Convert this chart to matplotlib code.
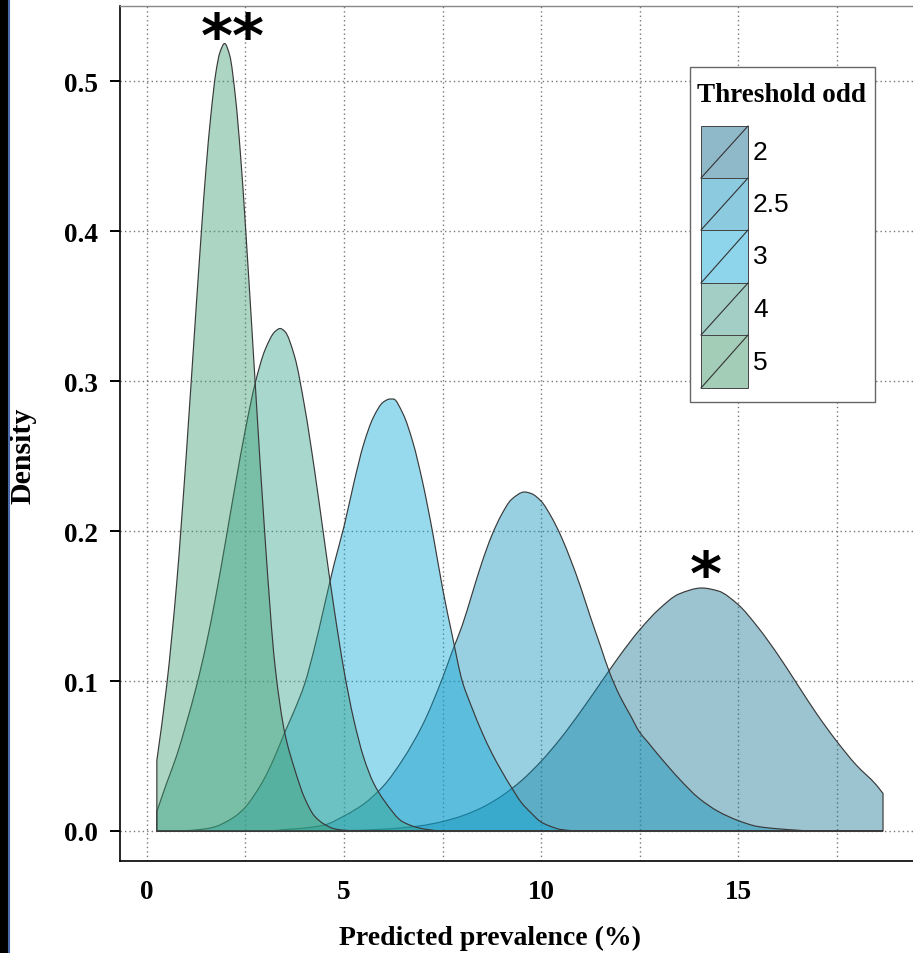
import matplotlib
matplotlib.use("Agg")
import numpy as np
import matplotlib.pyplot as plt
from matplotlib.patches import Rectangle, PathPatch
from matplotlib.path import Path
from matplotlib.lines import Line2D

# ---------------- data ----------------
groups = ["2", "2.5", "3", "4", "5"]

x_2 = [0.25, 4.0, 5.0, 6.0, 6.5, 7.0, 7.5, 8.0, 8.5, 9.0, 9.5, 10.0, 10.5, 11.0, 11.5,
       12.0, 12.5, 13.0, 13.5, 14.08, 14.5, 15.0, 15.5, 16.0, 16.5, 17.0, 17.5, 18.0, 18.5, 18.68]
d_2 = [0.0, 0.0001, 0.0003, 0.0012, 0.0022, 0.0037, 0.0063, 0.0101, 0.0156, 0.0233, 0.0335,
       0.0464, 0.0618, 0.0794, 0.0982, 0.117, 0.134, 0.148, 0.158, 0.162, 0.160, 0.151, 0.136,
       0.118, 0.098, 0.078, 0.060, 0.044, 0.031, 0.025]

x_25 = [0.25, 3.0, 3.5, 4.0, 4.5, 5.0, 5.5, 6.0, 6.5, 7.0, 7.5, 7.75, 8.0, 8.25, 8.5, 8.75,
        9.0, 9.25, 9.58, 9.75, 10.0, 10.25, 10.5, 10.75, 11.0, 11.25, 11.5, 11.75, 12.0,
        12.25, 12.5, 12.75, 13.0, 13.5, 14.0, 14.5, 15.0, 15.5, 16.0, 17.0, 18.68]
d_25 = [0.0, 0.0, 0.001, 0.002, 0.004, 0.010, 0.018, 0.030, 0.048, 0.071, 0.102, 0.120,
        0.137, 0.158, 0.179, 0.197, 0.211, 0.221, 0.226, 0.225, 0.220, 0.210, 0.197, 0.181,
        0.163, 0.143, 0.124, 0.105, 0.090, 0.078, 0.066, 0.058, 0.050, 0.035, 0.022, 0.013,
        0.007, 0.003, 0.0015, 0.0, 0.0]

x_3 = [0.25, 1.0, 1.5, 1.75, 2.0, 2.25, 2.5, 2.75, 3.0, 3.25, 3.5, 3.75, 4.0, 4.25, 4.5,
       4.75, 5.0, 5.25, 5.5, 5.75, 6.0, 6.17, 6.25, 6.5, 6.75, 7.0, 7.25, 7.5, 7.75, 8.0,
       8.25, 8.5, 8.75, 9.0, 9.25, 9.5, 9.75, 10.0, 10.25, 10.5, 11.0, 18.68]
d_3 = [0.0, 0.0003, 0.0015, 0.003, 0.006, 0.010, 0.016, 0.025, 0.036, 0.050, 0.066, 0.081,
       0.098, 0.122, 0.150, 0.178, 0.203, 0.232, 0.258, 0.276, 0.286, 0.288, 0.288, 0.278,
       0.259, 0.232, 0.199, 0.162, 0.130, 0.100, 0.082, 0.066, 0.052, 0.040, 0.029, 0.019,
       0.012, 0.006, 0.003, 0.001, 0.0, 0.0]

x_4 = [0.25, 0.5, 0.75, 1.0, 1.25, 1.5, 1.75, 2.0, 2.25, 2.5, 2.75, 3.0, 3.25, 3.38, 3.5,
       3.75, 4.0, 4.25, 4.5, 4.75, 5.0, 5.25, 5.5, 5.75, 6.0, 6.5, 7.0, 7.5, 18.68]
d_4 = [0.013, 0.032, 0.050, 0.072, 0.096, 0.124, 0.157, 0.194, 0.232, 0.268, 0.299, 0.321,
       0.333, 0.335, 0.333, 0.316, 0.283, 0.241, 0.194, 0.148, 0.107, 0.074, 0.049, 0.032,
       0.021, 0.006, 0.0015, 0.0, 0.0]

x_5 = [0.25, 0.5, 0.75, 1.0, 1.25, 1.5, 1.62, 1.75, 1.85, 1.97, 2.1, 2.25, 2.37, 2.5, 2.75,
       3.0, 3.25, 3.5, 3.75, 4.0, 4.25, 4.5, 4.75, 5.0, 5.5, 18.68]
d_5 = [0.047, 0.097, 0.164, 0.252, 0.350, 0.442, 0.477, 0.506, 0.519, 0.525, 0.517, 0.488,
       0.452, 0.403, 0.297, 0.194, 0.110, 0.065, 0.041, 0.022, 0.010, 0.0045, 0.0015, 0.0005,
       0.0, 0.0]

fill_colors = ["#11708f", "#0a8fba", "#0aa7d6", "#30a28a", "#399b70"]
key_colors = ["#8fb8c8", "#8ccadf", "#8ed4ea", "#a3cec6", "#a3cdb6"]
fill_alpha = 0.42

x_ticks = [0, 5, 10, 15]
x_minor = [2.5, 7.5, 12.5, 17.5, 20]
y_ticks = [0.0, 0.1, 0.2, 0.3, 0.4, 0.5]
y_labels = ["0.0", "0.1", "0.2", "0.3", "0.4", "0.5"]


def smooth_area_path(xs, ys):
    """Closed area path: monotone cubic (PCHIP-style) Bezier through the points, down to 0."""
    x = np.asarray(xs, float)
    y = np.asarray(ys, float)
    h = np.diff(x)
    delta = np.diff(y) / h
    n = len(x)
    m = np.zeros(n)
    m[0], m[-1] = delta[0], delta[-1]
    for k in range(1, n - 1):
        if delta[k - 1] * delta[k] <= 0:
            m[k] = 0.0
        else:
            w1 = 2 * h[k] + h[k - 1]
            w2 = h[k] + 2 * h[k - 1]
            m[k] = (w1 + w2) / (w1 / delta[k - 1] + w2 / delta[k])
    verts = [(x[0], 0.0), (x[0], y[0])]
    codes = [Path.MOVETO, Path.LINETO]
    for k in range(n - 1):
        c1 = (x[k] + h[k] / 3, max(y[k] + m[k] * h[k] / 3, 0.0))
        c2 = (x[k + 1] - h[k] / 3, max(y[k + 1] - m[k + 1] * h[k] / 3, 0.0))
        verts += [c1, c2, (x[k + 1], y[k + 1])]
        codes += [Path.CURVE4] * 3
    verts += [(x[-1], 0.0), (x[0], 0.0)]
    codes += [Path.LINETO, Path.CLOSEPOLY]
    return Path(verts, codes)


# ---------------- figure ----------------
W, H = 913, 954
fig = plt.figure(figsize=(W / 100, H / 100), dpi=100)
fig.patch.set_facecolor("white")

AX_L, AX_B, AX_R, AX_T = 120, 862, 950, 7  # pixels (top-left origin)
ax = fig.add_axes([AX_L / W, (H - AX_B) / H, (AX_R - AX_L) / W, (AX_B - AX_T) / H])
ax.set_xlim(-0.685, 20.38)
ax.set_ylim(-0.02, 0.55)


def axf(px, py):
    return ((px - AX_L) / (AX_R - AX_L), (AX_B - py) / (AX_B - AX_T))


# grid
ax.set_xticks(x_ticks)
ax.set_xticklabels([str(t) for t in x_ticks])
ax.set_xticks(x_minor, minor=True)
ax.set_yticks(y_ticks)
ax.set_yticklabels(y_labels)
ax.grid(True, which="both", axis="x", color="#777777", lw=1.0, linestyle=(0, (1, 2.2)))
ax.grid(True, which="major", axis="y", color="#777777", lw=1.0, linestyle=(0, (1, 2.2)))
ax.set_axisbelow(True)

serif = ["Liberation Serif", "DejaVu Serif"]
ax.tick_params(axis="x", which="both", length=0, pad=13)
ax.tick_params(axis="y", length=7.2, width=1.4, color="black", direction="out", pad=9)
for lab in ax.get_xticklabels() + ax.get_yticklabels():
    lab.set_fontfamily(serif)
    lab.set_fontweight("bold")
    lab.set_fontsize(19.5)

for s in ["left", "bottom"]:
    ax.spines[s].set_color("black")
    ax.spines[s].set_linewidth(1.2)
ax.spines["top"].set_color("#888888")
ax.spines["top"].set_linewidth(1.0)
ax.spines["right"].set_visible(False)

ax.set_xlabel("Predicted prevalence (%)", fontfamily=serif, fontweight="bold", fontsize=20)
ax.xaxis.set_label_coords(*axf(490, 926))
ax.set_ylabel("Density", fontfamily=serif, fontweight="bold", fontsize=21.5)
ax.yaxis.set_label_coords(*axf(36, 456))

# densities
series_x = [x_2, x_25, x_3, x_4, x_5]
series_d = [d_2, d_25, d_3, d_4, d_5]
for xs, ds, c in zip(series_x, series_d, fill_colors):
    rgba = matplotlib.colors.to_rgba(c, fill_alpha)
    ax.add_patch(PathPatch(smooth_area_path(xs, ds), facecolor=rgba, edgecolor="#3a3a3a",
                           linewidth=0.85, zorder=3, transform=ax.transData))

# significance marks
ax.text(2.18, 0.528, "**", fontsize=44, fontweight="bold", fontfamily="DejaVu Sans",
        ha="center", va="center", zorder=6)
ax.text(14.19, 0.169, "*", fontsize=44, fontweight="bold", fontfamily="DejaVu Sans",
        ha="center", va="center", zorder=6)

# legend (drawn in axes-fraction coordinates)
bx0, by0 = axf(690, 403)
bx1, by1 = axf(875, 68)
ax.add_patch(Rectangle((bx0, by0), bx1 - bx0, by1 - by0, transform=ax.transAxes,
                       facecolor="white", edgecolor="#666666", lw=1.0, zorder=10))
tx, ty = axf(697, 96)
ax.text(tx, ty, "Threshold odd", transform=ax.transAxes, fontfamily=serif, fontweight="bold",
        fontsize=19.5, ha="left", va="center", zorder=11)
key_tops = [127, 179, 231, 284, 336]
key_bots = [179, 231, 284, 336, 389]
for g, kc, kt, kb in zip(groups, key_colors, key_tops, key_bots):
    x0, y0 = axf(701, kb)
    x1, y1 = axf(748, kt)
    ax.add_patch(Rectangle((x0, y0), x1 - x0, y1 - y0, transform=ax.transAxes,
                           facecolor=kc, edgecolor="#444444", lw=0.7, zorder=11))
    ax.add_line(Line2D([x0, x1], [y0, y1], transform=ax.transAxes, color="#333333",
                       lw=0.8, zorder=12))
    lx, ly = axf(753, (kt + kb) / 2)
    ax.text(lx, ly, g, transform=ax.transAxes, fontfamily=["Liberation Sans", "DejaVu Sans"],
            fontsize=19, ha="left", va="center", zorder=12)

# dark strip on the left edge of the picture
fig.patches.append(Rectangle((0, 0), 8 / W, 1, transform=fig.transFigure,
                             facecolor="black", edgecolor="none", zorder=0))
fig.lines.append(Line2D([9 / W, 9 / W], [0, 1], transform=fig.transFigure,
                        color="#4a6aa8", lw=1.5))

fig.savefig("out.png", dpi=100)
